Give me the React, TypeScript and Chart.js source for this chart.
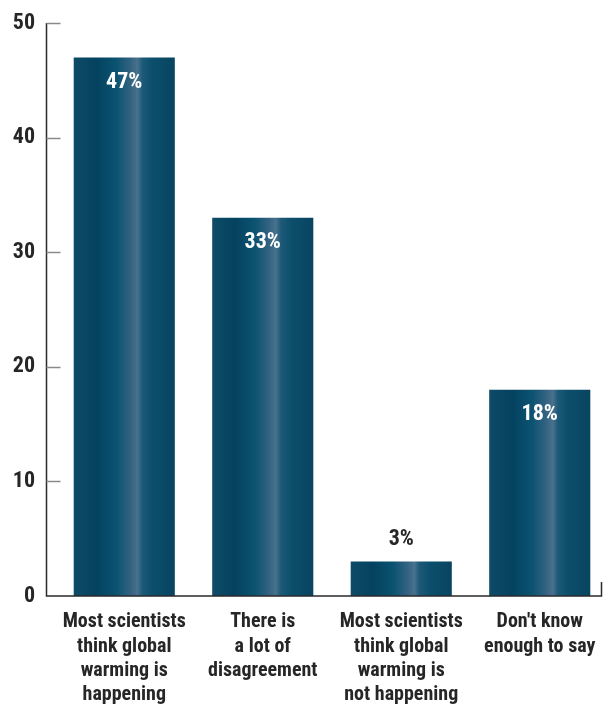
import React, { useEffect, useRef } from "react";
import { Chart, registerables } from "chart.js";

Chart.register(...registerables);

const categories: string[][] = [
  ["Most scientists", "think global", "warming is", "happening"],
  ["There is", "a lot of", "disagreement"],
  ["Most scientists", "think global", "warming is", "not happening"],
  ["Don't know", "enough to say"],
];
const values: number[] = [47, 33, 3, 18];
const valueLabels: string[] = ["47%", "33%", "3%", "18%"];
const yTicks: number[] = [0, 10, 20, 30, 40, 50];

const FONT = "'Roboto Condensed', 'Open Sans Condensed', 'DejaVu Sans Condensed', sans-serif";
const TEXT = "#262626";

const axesPlugin = {
  id: "customAxes",
  afterDraw(chart: any) {
    const { ctx, chartArea, scales } = chart;
    const y = scales.y;
    const axisX = chartArea.left - 8.5;
    const bottom = y.getPixelForValue(0);
    const top = y.getPixelForValue(50);
    ctx.save();
    ctx.lineWidth = 1.5;
    ctx.strokeStyle = "#2a2a2a";
    ctx.beginPath();
    ctx.moveTo(axisX, top);
    ctx.lineTo(axisX, bottom);
    ctx.lineTo(chartArea.right - 7.5, bottom);
    ctx.lineTo(chartArea.right - 7.5, bottom - 14);
    ctx.stroke();
    ctx.strokeStyle = "#8a8a8a";
    ctx.lineWidth = 1.5;
    yTicks.forEach((t) => {
      if (t === 0) return;
      const py = Math.round(y.getPixelForValue(t)) + 0.5;
      ctx.beginPath();
      ctx.moveTo(axisX, py);
      ctx.lineTo(axisX + 14, py);
      ctx.stroke();
    });
    ctx.restore();
  },
};

const labelPlugin = {
  id: "valueLabels",
  afterDatasetsDraw(chart: any) {
    const { ctx } = chart;
    const meta = chart.getDatasetMeta(0);
    ctx.save();
    ctx.font = `bold 22px ${FONT}`;
    ctx.textAlign = "center";
    ctx.textBaseline = "middle";
    meta.data.forEach((bar: any, i: number) => {
      const v = values[i];
      if (v < 8) {
        ctx.fillStyle = TEXT;
        ctx.fillText(valueLabels[i], bar.x, bar.y - 22);
      } else {
        ctx.fillStyle = "#ffffff";
        ctx.fillText(valueLabels[i], bar.x, bar.y + 25);
      }
    });
    ctx.restore();
  },
};

export default function App() {
  const ref = useRef<HTMLCanvasElement | null>(null);

  useEffect(() => {
    if (!ref.current) return;
    const barPct = 0.73;
    const chart = new Chart(ref.current, {
      type: "bar",
      data: {
        labels: categories,
        datasets: [
          {
            data: values,
            borderWidth: 0,
            backgroundColor: (c: any) => {
              const ch = c.chart;
              const xs = ch.scales?.x;
              if (!xs || !ch.chartArea) return "#0b4a66";
              const cx = xs.getPixelForValue(c.dataIndex);
              const w = (xs.width / categories.length) * barPct;
              const x0 = cx - w / 2;
              const g = ch.ctx.createLinearGradient(x0, 0, x0 + w, 0);
              g.addColorStop(0, "#0e4b67");
              g.addColorStop(0.22, "#04425f");
              g.addColorStop(0.42, "#0a5371");
              g.addColorStop(0.56, "#336281");
              g.addColorStop(0.63, "#48718d");
              g.addColorStop(0.68, "#1d5978");
              g.addColorStop(0.78, "#0b4f6c");
              g.addColorStop(1, "#084460");
              return g;
            },
            barPercentage: barPct,
            categoryPercentage: 1,
          },
        ],
      },
      options: {
        animation: false,
        responsive: true,
        maintainAspectRatio: false,
        layout: { padding: { left: 0, right: 2, top: 23, bottom: 0 } },
        plugins: {
          legend: { display: false },
          tooltip: { enabled: false },
        },
        scales: {
          x: {
            grid: { display: false },
            border: { display: false },
            ticks: {
              color: TEXT,
              font: { family: FONT, size: 20, weight: "bold", lineHeight: 1.22 },
              padding: 6,
              maxRotation: 0,
              autoSkip: false,
            },
            afterFit: (s: any) => {
              s.height = 112;
              s.paddingLeft = 0;
              s.paddingRight = 0;
            },
          },
          y: {
            min: 0,
            max: 50,
            grid: { display: false },
            border: { display: false },
            afterBuildTicks: (s: any) => {
              s.ticks = yTicks.map((v) => ({ value: v }));
            },
            ticks: {
              color: TEXT,
              font: { family: FONT, size: 22, weight: "bold" },
              padding: 12,
            },
            afterFit: (s: any) => {
              s.width = 55;
              s.paddingTop = 0;
              s.paddingBottom = 0;
            },
          },
        },
      },
      plugins: [axesPlugin, labelPlugin],
    } as any);
    return () => chart.destroy();
  }, []);

  return (
    <div style={{ position: "fixed", left: 0, top: 0, width: 611, height: 708, background: "#fff" }}>
      <canvas ref={ref} />
    </div>
  );
}
